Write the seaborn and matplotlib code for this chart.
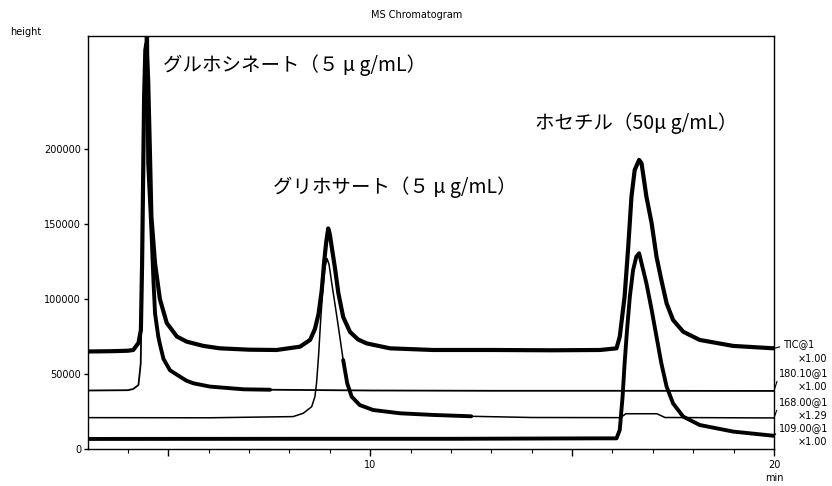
import matplotlib
matplotlib.use("Agg")
import matplotlib.pyplot as plt
from matplotlib.ticker import MultipleLocator
import seaborn as sns

# ---------------- data ----------------
tic_t = [3.01, 3.6, 4.0, 4.13, 4.26, 4.32, 4.35, 4.38, 4.40, 4.43, 4.455, 4.50, 4.54, 4.58,
         4.67, 4.79, 4.96, 5.21, 5.45, 5.87, 6.28, 7.0, 7.68, 8.26, 8.51, 8.63, 8.72, 8.80,
         8.86, 8.91, 8.96, 9.00, 9.05, 9.13, 9.21, 9.33, 9.50, 9.70, 9.91, 10.49, 11.56, 13.0,
         14.5, 15.69, 16.10, 16.18, 16.30, 16.39, 16.47, 16.55, 16.66, 16.72, 16.84, 16.97,
         17.09, 17.21, 17.34, 17.50, 17.75, 18.16, 18.99, 20.0]
tic_v = [65000, 65200, 65500, 66000, 70700, 79300, 124000, 190700, 234700, 266000, 270000,
         246000, 201600, 154900, 123800, 100000, 84000, 75000, 71600, 68700, 67100, 66200,
         66000, 68200, 72700, 80000, 90000, 106000, 125000, 138000, 147000, 143000, 134000,
         120000, 104000, 88000, 78000, 73000, 70400, 67100, 66000, 66000, 65800, 66000, 67100,
         74900, 101600, 134900, 168200, 186000, 192700, 190400, 168200, 150400, 128200,
         112700, 97100, 86000, 78200, 72700, 68700, 67100]

m180_t = [3.01, 4.0, 4.13, 4.26, 4.316, 4.34, 4.366, 4.40, 4.42, 4.45, 4.47, 4.50, 4.58,
          4.63, 4.67, 4.75, 4.79, 4.88, 5.04, 5.29, 5.45, 5.62, 6.03, 6.86, 7.52, 10.0, 13.0,
          16.0, 20.0]
m180_v = [39000, 39200, 40000, 42700, 57100, 101600, 146000, 212700, 257100, 290000, 290000,
          190400, 146000, 112700, 90500, 75000, 70000, 60000, 52500, 48200, 45500, 43800,
          41600, 39800, 39500, 39000, 38800, 38800, 38700]

m168_t = [3.01, 6.0, 8.09, 8.34, 8.55, 8.63, 8.67, 8.72, 8.77, 8.83, 8.88, 8.93, 8.98, 9.05,
          9.13, 9.21, 9.33, 9.43, 9.54, 9.74, 10.07, 10.74, 11.56, 12.5, 14.0, 16.2, 16.33,
          17.1, 17.3, 20.0]
m168_v = [20900, 20800, 21600, 23800, 28200, 34900, 43800, 62000, 85000, 108000, 121000,
          127000, 123000, 110000, 96000, 81600, 59300, 43800, 34900, 29300, 26000, 23800,
          22700, 21800, 21000, 20900, 23500, 23500, 21000, 20700]

m109_t = [3.01, 8.0, 12.0, 15.69, 16.10, 16.18, 16.25, 16.30, 16.36, 16.43, 16.51, 16.59,
          16.66, 16.72, 16.84, 16.97, 17.09, 17.21, 17.34, 17.50, 17.75, 18.16, 18.99, 20.0]
m109_v = [6700, 6800, 6800, 7100, 7100, 12700, 34900, 57100, 79300, 101600, 119300, 128200,
          130500, 123800, 110500, 92700, 74900, 57100, 41600, 30400, 21600, 16000, 11600, 8800]

trace_names = ["TIC@1", "180.10@1", "168.00@1", "109.00@1"]
trace_scales = ["×1.00", "×1.00", "×1.29", "×1.00"]

peak_labels = ["グルホシネート（５ μ g/mL）", "グリホサート（５ μ g/mL）", "ホセチル（50μ g/mL）"]

y_ticks = [0, 50000, 100000, 150000, 200000]
y_ticklabels = ["0", "50000", "100000", "150000", "200000"]
x_ticks = [5, 10, 15, 20]
x_ticklabels = ["", "10", "", "20"]

# ---------------- figure ----------------
sns.set_style("white")
plt.rcParams["font.family"] = ["DejaVu Sans", "Noto Sans CJK JP"]
plt.rcParams["text.color"] = "black"
plt.rcParams["xtick.color"] = "black"
plt.rcParams["ytick.color"] = "black"
plt.rcParams["axes.labelcolor"] = "black"

W, H = 832, 486
fig = plt.figure(figsize=(W / 100, H / 100), dpi=100)
fig.patch.set_facecolor("white")
ax = fig.add_axes([88 / W, 1 - 449 / H, (774 - 88) / W, (449 - 36) / H])
ax.set_facecolor("white")

k = "black"
sns.lineplot(x=tic_t, y=tic_v, ax=ax, color=k, lw=3.0, sort=False, estimator=None)
sns.lineplot(x=m180_t, y=m180_v, ax=ax, color=k, lw=1.3, sort=False, estimator=None)
sns.lineplot(x=m180_t[10:25], y=m180_v[10:25], ax=ax, color=k, lw=2.8, sort=False, estimator=None)
sns.lineplot(x=m168_t, y=m168_v, ax=ax, color=k, lw=1.1, sort=False, estimator=None)
sns.lineplot(x=m168_t[16:24], y=m168_v[16:24], ax=ax, color=k, lw=2.8, sort=False, estimator=None)
sns.lineplot(x=m109_t, y=m109_v, ax=ax, color=k, lw=2.8, sort=False, estimator=None)

ax.set_xlim(3.01, 20.0)
ax.set_ylim(0, 275300)
ax.set_xlabel("")
ax.set_ylabel("")

for s in ax.spines.values():
    s.set_visible(True)
    s.set_color(k)
    s.set_linewidth(1.0)

ax.set_yticks(y_ticks)
ax.set_yticklabels(y_ticklabels)
ax.set_xticks(x_ticks)
ax.set_xticklabels(x_ticklabels)
ax.xaxis.set_minor_locator(MultipleLocator(1))
ax.tick_params(axis="y", which="major", direction="out", length=3, width=1, labelsize=7, pad=2,
               left=True, right=False)
ax.tick_params(axis="x", which="major", direction="out", length=5, width=1, labelsize=7, pad=3,
               bottom=True, top=False)
ax.tick_params(axis="x", which="minor", direction="out", length=3, width=0.8, bottom=True, top=False)

jp = ["Noto Sans CJK JP", "DejaVu Sans"]
ax.text(4.87, 256000, peak_labels[0], fontsize=14, family=jp, va="center", ha="left")
ax.text(7.6, 174700, peak_labels[1], fontsize=14, family=jp, va="center", ha="left")
ax.text(14.08, 217300, peak_labels[2], fontsize=14, family=jp, va="center", ha="left")

fig.text(417 / W, 1 - 15 / H, "MS Chromatogram", fontsize=7, ha="center", va="center")
fig.text(10 / W, 1 - 32 / H, "height", fontsize=7, ha="left", va="center")
fig.text(774 / W, 1 - 478 / H, "min", fontsize=7, ha="center", va="center")

ends = [tic_v[-1], m180_v[-1], m168_v[-1], m109_v[-1]]
name_pos = [(783, 344), (779, 373), (779, 402), (779, 428)]
scale_pos = [(798, 359), (798, 387), (798, 416), (798, 442)]
for name, sc, yend, (nx, ny), (sx, sy) in zip(trace_names, trace_scales, ends, name_pos, scale_pos):
    ax.annotate(name, xy=(20.0, yend), xycoords="data", xytext=(nx, H - ny),
                textcoords="figure pixels", ha="left", va="center", fontsize=7,
                annotation_clip=False,
                arrowprops=dict(arrowstyle="-", lw=0.8, color=k, shrinkA=0, shrinkB=0,
                                relpos=(0.0, 0.3)))
    fig.text(sx / W, 1 - sy / H, sc, fontsize=7, ha="left", va="center")

fig.savefig("out.png", dpi=100, facecolor="white")
